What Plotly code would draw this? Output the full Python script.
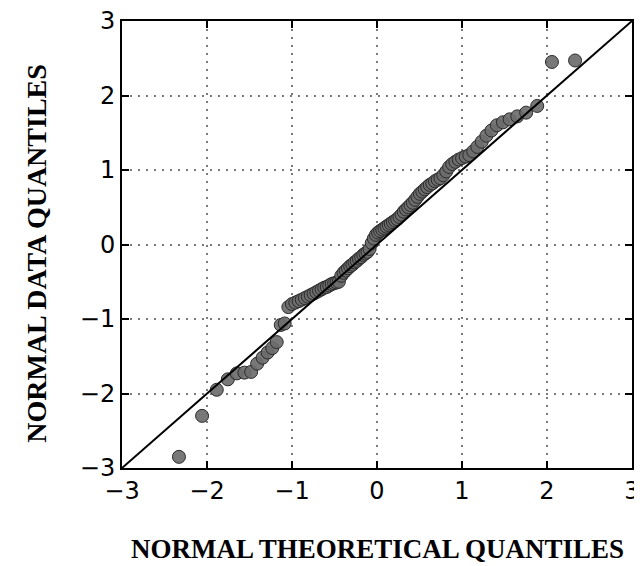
import plotly.graph_objects as go

# Theoretical normal quantiles (x) and sorted sample quantiles (y)
theoretical = [
    -2.330, -2.058, -1.885, -1.755, -1.650, -1.560, -1.481, -1.410, -1.346, -1.287,
    -1.232, -1.180, -1.132, -1.086, -1.043, -1.001, -0.961, -0.922, -0.885, -0.849,
    -0.814, -0.780, -0.746, -0.714, -0.682, -0.651, -0.621, -0.591, -0.562, -0.533,
    -0.504, -0.476, -0.449, -0.421, -0.394, -0.368, -0.341, -0.315, -0.289, -0.264,
    -0.238, -0.213, -0.187, -0.162, -0.137, -0.112, -0.087, -0.062, -0.037, -0.012,
    0.012, 0.037, 0.062, 0.087, 0.112, 0.137, 0.162, 0.187, 0.213, 0.238,
    0.264, 0.289, 0.315, 0.341, 0.368, 0.394, 0.421, 0.449, 0.476, 0.504,
    0.533, 0.562, 0.591, 0.621, 0.651, 0.682, 0.714, 0.746, 0.780, 0.814,
    0.849, 0.885, 0.922, 0.961, 1.001, 1.043, 1.086, 1.132, 1.180, 1.232,
    1.287, 1.346, 1.410, 1.481, 1.560, 1.650, 1.755, 1.885, 2.058, 2.330,
]
sample = [
    -2.85, -2.30, -1.95, -1.81, -1.73, -1.72, -1.71, -1.60, -1.52, -1.45,
    -1.39, -1.31, -1.08, -1.06, -0.84, -0.80, -0.78, -0.76, -0.74, -0.72,
    -0.70, -0.68, -0.66, -0.64, -0.62, -0.60, -0.58, -0.57, -0.55, -0.53,
    -0.52, -0.51, -0.50, -0.42, -0.38, -0.35, -0.32, -0.29, -0.27, -0.24,
    -0.22, -0.19, -0.17, -0.14, -0.12, -0.10, -0.06, 0.02, 0.08, 0.13,
    0.16, 0.18, 0.20, 0.22, 0.24, 0.26, 0.28, 0.30, 0.32, 0.34,
    0.37, 0.40, 0.44, 0.47, 0.50, 0.53, 0.56, 0.60, 0.64, 0.68,
    0.71, 0.74, 0.77, 0.80, 0.82, 0.85, 0.87, 0.89, 0.93, 0.98,
    1.04, 1.08, 1.11, 1.14, 1.16, 1.18, 1.20, 1.25, 1.31, 1.38,
    1.46, 1.53, 1.60, 1.64, 1.68, 1.72, 1.77, 1.86, 2.45, 2.47,
]
ref_line = [-3, 3]
tick_vals = [-3, -2, -1, 0, 1, 2, 3]

x_title = "NORMAL THEORETICAL QUANTILES"
y_title = "NORMAL DATA QUANTILES"

fig = go.Figure()
fig.add_trace(go.Scatter(
    x=theoretical, y=sample, mode="markers",
    marker=dict(size=13, color="rgba(108,108,108,0.92)",
                line=dict(color="#2a2a2a", width=1)),
    showlegend=False,
))
fig.add_trace(go.Scatter(
    x=ref_line, y=ref_line, mode="lines",
    line=dict(color="black", width=2), showlegend=False,
))

axis_common = dict(
    range=[-3, 3], tickvals=tick_vals, ticks="inside", ticklen=7, tickwidth=1.5,
    tickcolor="black", showline=True, linecolor="black", linewidth=2, mirror="ticks",
    showgrid=True, gridcolor="#7a7a7a", griddash="2px,6px", gridwidth=1.5,
    zeroline=False, automargin=False, ticklabeloverflow="allow",
    tickfont=dict(family="DejaVu Sans", size=24, color="black"),
)
fig.update_xaxes(**axis_common)
fig.update_yaxes(**axis_common)

# the page adds an 8px body margin, so the figure is sized to fit the 642x566 window
fig.update_layout(
    width=634, height=558,
    margin=dict(l=114, r=10, t=13, b=98),
    paper_bgcolor="white", plot_bgcolor="white",
    annotations=[
        dict(text="<b>" + x_title + "</b>", xref="paper", yref="paper", x=0.5, y=-0.181,
             xanchor="center", yanchor="middle", showarrow=False,
             font=dict(family="Liberation Serif", size=27, color="black")),
        dict(text="<b>" + y_title + "</b>", xref="paper", yref="paper", x=-0.168, y=0.48,
             xanchor="center", yanchor="middle", showarrow=False, textangle=-90,
             font=dict(family="Liberation Serif", size=28, color="black")),
    ],
)

fig.write_html("out.html")
